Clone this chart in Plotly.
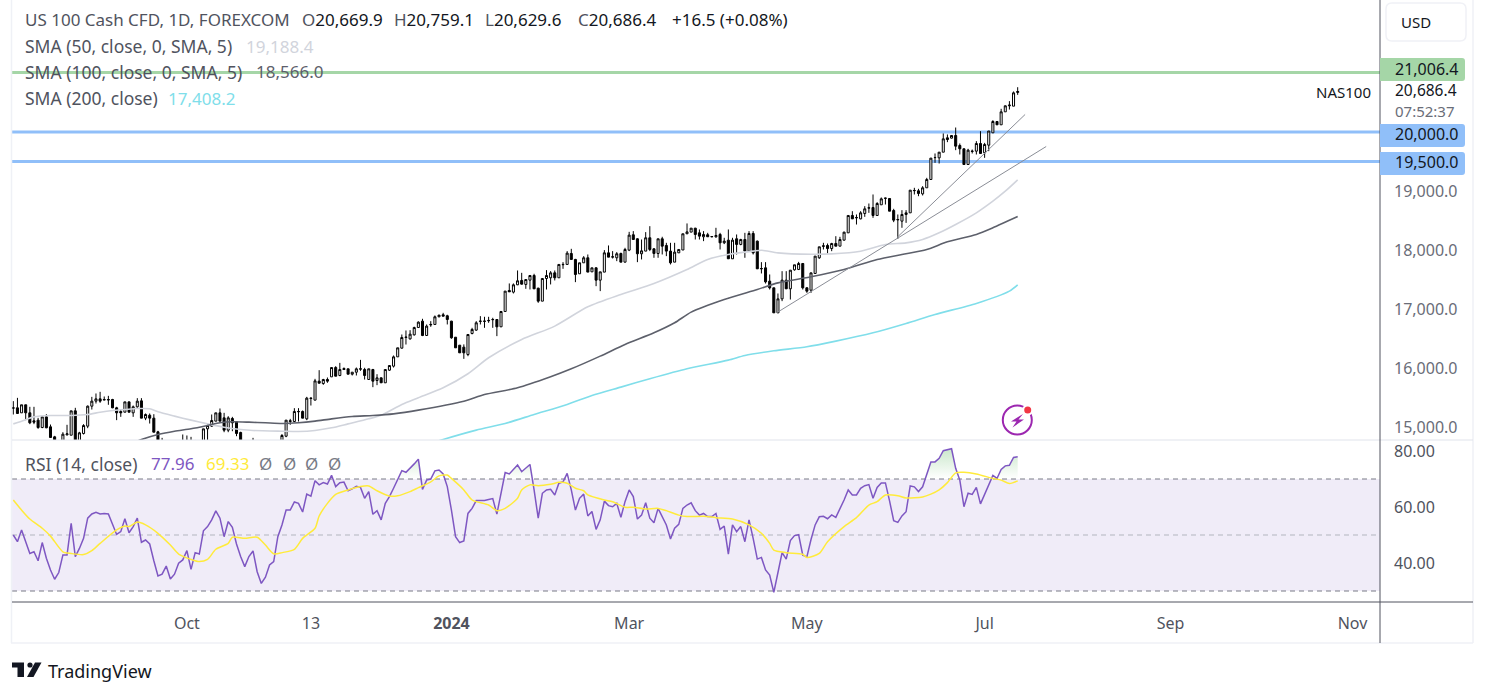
import numpy as np
import plotly.graph_objects as go

W, H = 1488, 697

# daily candles (bars below the pane are clipped in the original too)
opens = [15325,15325,15240,15376,15240,15105,15116,14991,15172,15003,14833,14760,14760,14867,14861,15274,14760,14890,15014,15353,
         15438,15477,15466,15466,15466,15325,15263,15251,15426,15240,15342,15443,15150,15200,15150,14918,14760,14700,14620,14700,
         14640,14680,14760,14700,14750,14680,14700,14969,15014,15099,15240,15155,14946,15144,15087,14907,14700,14600,14680,14640,
         14560,14520,14600,14540,14640,14720,14844,15093,15093,15257,15263,15138,15483,15455,15777,15737,15805,15850,16008,15873,
         15991,15986,15895,15929,15980,15974,15805,15974,15788,15833,15749,15963,16031,16189,16336,16517,16494,16562,16686,
         16794,16551,16730,16738,16868,16902,16885,16794,16522,16387,16353,16228,16585,16642,16790,16790,16800,16818,16822,16698,
         16958,17314,17286,17410,17484,17416,17489,17568,17353,17133,17517,17529,17613,17529,17750,17755,17941,17840,17597,17783,
         17868,17630,17698,17489,17625,17952,17879,17868,17941,17794,17998,18258,18190,17936,17981,18207,18020,17941,18190,18077,
         17981,17794,17952,18000,18275,18303,18370,18291,18224,18258,18224,18224,18263,18122,18167,17851,18190,18094,18178,17981,
         18280,18150,
         17680,17698,17472,17359,16935,17172,17489,17342,17664,17670,17771,17359,17319,17602,17868,18070,18076,18025,18110,18065,
         18167,18291,18585,18545,18528,18619,18710,18720,18585,18766,18875,18873,18669,18510,18489,18602,18630,19005,19003,18952,
         19054,19195,19565,19562,19658,19901,19896,19941,19771,19715,19449,19670,19675,19805,19647,19777,19986,20178,20122,20342,
         20444,20438,20669.9]
highs = [15438,15494,15376,15376,15342,15342,15155,15172,15217,15042,14850,14780,14912,15037,15274,15325,14918,15048,15364,15511,
         15568,15596,15517,15528,15477,15342,15296,15426,15426,15364,15489,15489,15229,15229,15217,14935,14816,14760,14740,14770,
         14750,14873,14856,14833,14780,14770,14969,15042,15212,15240,15314,15240,15183,15172,15100,14920,14770,14720,14816,14720,
         14650,14640,14700,14680,14760,14880,15116,15138,15319,15319,15280,15511,15500,15816,15963,15816,15839,16008,16031,16087,
         16010,15986,15929,16008,16138,16003,15986,15985,15895,15840,15974,16042,16212,16342,16568,16636,16641,16700,16790,
         16834,16738,16794,16890,16900,16935,16902,16800,16522,16387,16400,16568,16681,16794,16879,16868,16868,16851,16830,16960,
         17303,17433,17433,17653,17613,17500,17568,17597,17360,17517,17659,17642,17653,17755,17794,17981,18020,17850,17783,17896,
         17924,17698,17705,17630,17998,18077,17981,17964,17955,18037,18308,18320,18200,18178,18303,18404,18030,18190,18224,18122,
         18122,18122,18009,18275,18450,18370,18375,18348,18320,18291,18235,18376,18291,18207,18348,18207,18263,18190,18291,18320,
         18320,18160,
         17794,17794,17585,17360,17263,17641,17641,17660,17750,17799,17780,17370,17613,17896,18054,18122,18110,18122,18234,18223,
         18310,18585,18658,18602,18658,18743,18788,18941,18811,18890,18885,18880,18698,18602,18675,18675,19014,19054,19037,19082,
         19223,19557,19636,19660,19975,19958,19945,20076,19805,19720,19715,19703,19845,20014,19816,20017,20200,20185,20393,20450,
         20523,20687,20759.1]
lows = [15212,15229,15240,15116,15048,15048,14969,14980,14980,14822,14700,14600,14740,14856,14861,14650,14740,14873,14980,15296,
        15398,15410,15455,15376,15319,15116,15172,15251,15251,15172,15325,15150,15116,15059,14912,14700,14650,14580,14560,14590,
        14600,14640,14660,14620,14640,14600,14680,14780,15003,15099,15099,14912,14912,14929,14844,14650,14560,14520,14590,14520,
        14450,14440,14500,14490,14600,14700,14827,15037,15082,15093,15150,15116,15364,15455,15737,15715,15749,15850,15861,15861,
        15974,15895,15873,15873,15952,15805,15805,15675,15709,15749,15749,15950,16008,16189,16330,16398,16480,16550,16680,
        16540,16551,16698,16738,16860,16879,16738,16495,16342,16257,16155,16200,16570,16630,16738,16681,16766,16681,16540,16698,
        16958,17291,17263,17405,17416,17342,17331,17342,17105,17133,17331,17416,17484,17529,17681,17755,17840,17455,17597,17783,
        17625,17630,17387,17303,17625,17879,17856,17811,17794,17790,17981,18178,17794,17840,17981,17981,17868,17868,17924,17896,
        17755,17794,17950,18000,18270,18303,18178,18178,18150,18224,18215,18207,18009,18100,17851,17851,17924,18080,17868,17981,
        17924,17680,
        17602,17432,17330,16935,16935,17133,17342,17161,17650,17660,17330,17274,17274,17602,17850,18009,17941,17980,18065,18065,
        18160,18291,18528,18432,18520,18562,18630,18545,18585,18766,18771,18658,18472,18189,18376,18460,18630,18941,18912,18924,
        19054,19195,19477,19466,19658,19828,19890,19692,19619,19449,19449,19636,19619,19636,19562,19675,19986,20122,20122,20342,
        20381,20438,20629.6]
closes = [15320,15229,15376,15240,15071,15082,14991,15172,14986,14822,14760,14650,14878,14884,15274,14700,14901,15025,15353,15438,
          15477,15438,15460,15460,15325,15240,15240,15426,15251,15342,15438,15150,15212,15150,14912,14740,14700,14620,14700,14640,
          14720,14760,14700,14760,14680,14720,14969,15025,15110,15240,15099,14946,15155,15071,14890,14700,14600,14680,14640,14560,
          14520,14600,14540,14640,14720,14856,15116,15105,15263,15263,15150,15489,15489,15782,15743,15805,15777,16008,15861,15974,
          15974,15895,15929,15986,15986,15873,15986,15777,15833,15749,15974,16042,16189,16342,16517,16523,16573,16686,16777,
          16551,16710,16738,16868,16896,16879,16822,16512,16342,16257,16257,16568,16653,16766,16794,16794,16806,16822,16698,16958,
          17303,17291,17410,17478,17421,17500,17568,17342,17133,17517,17568,17613,17529,17755,17755,17947,17840,17585,17783,17868,
          17625,17698,17489,17630,17952,17879,17885,17936,17794,18009,18252,18178,17936,17986,18207,18009,17941,18190,18065,17981,
          17783,17964,18009,18275,18308,18370,18263,18235,18263,18224,18228,18246,18122,18150,17851,18167,18094,18178,17981,18280,
          17952,17681,
          17686,17460,17359,16935,17172,17489,17342,17658,17749,17771,17359,17302,17613,17896,18054,18065,18025,18110,18065,18178,
          18302,18585,18528,18550,18630,18698,18715,18585,18788,18867,18879,18658,18506,18517,18602,18630,19014,19009,18958,19054,
          19195,19557,19568,19658,19884,19873,19941,19760,19715,19449,19692,19675,19805,19636,19788,20017,20178,20122,20342,20444,
          20455,20664,20686.4]

# moving averages: bar index and price where each line was read
sma50_idx = [0,2,5,9,14,18,21,24,27,30,33,35,39,43,47,51,55,58,65,69,73,77,81,86,89,94,98,104,110,115,123,131,139,147,155,163,168,173,179,
             181,185,193,198,205,211,216,220,224,228,233,237,240,243]
sma50 = [15053,15099,15172,15195,15195,15212,15251,15280,15296,15313,15308,15257,15184,15116,15053,14997,14958,14941,14929,14924,14941,
         14986,15053,15138,15200,15381,15495,15664,15902,16173,16483,16710,17037,17246,17433,17670,17840,17924,17981,
         17997,17952,17929,17935,17980,18093,18121,18178,18291,18432,18630,18828,18997,19188.4]
sma100_idx = [30,31,35,39,43,47,50,53,57,61,65,69,73,77,82,87,92,98,109,114,122,130,135,142,148,155,160,164,172,180,185,193,201,209,215,221,226,233,237,243]
sma100 = [14760,14788,14873,14929,14969,15025,15071,15088,15082,15071,15059,15071,15099,15138,15178,15195,15223,15286,15438,15551,15664,
          15851,15986,16201,16399,16596,16766,16947,17161,17331,17443,17545,17670,17839,17924,18008,18138,18263,18376,18566.0]
sma200_idx = [100,104,112,119,126,134,140,147,154,163,173,177,184,192,199,208,216,223,233,241,243]
sma200 = [14700,14788,14947,15060,15212,15382,15534,15676,15817,15986,16133,16212,16291,16359,16455,16596,16755,16907,17094,17303,17408.2]

# hand drawn trend lines
trend1_idx, trend1 = [184.8, 249.9], [16941, 19754]
trend2_idx, trend2 = [213.8, 244.8], [18212, 20297]

# horizontal levels
levels = [21006.4, 20000.0, 19500.0]
level_colors = ["#a5d6a7", "#90bff9", "#90bff9"]
level_tops = [58, 124, 152]

rsi = [50.0,47.6,51.8,47.6,43.4,44.0,40.8,47.3,41.7,37.5,34.2,36.6,42.9,42.9,54.2,42.3,45.2,48.8,56.0,57.5,
       58.1,57.5,57.7,57.5,53.9,50.2,51.2,55.8,50.8,53.0,56.0,47.4,48.2,46.8,40.8,35.4,36.0,38.9,34.3,36.0,
       39.9,41.1,44.4,37.7,43.7,43.2,51.5,53.0,55.4,58.6,56.0,49.4,54.8,52.7,46.8,42.3,38.7,42.3,44.3,36.9,
       32.7,34.9,39.3,40.5,49.4,53.6,58.9,58.9,61.8,61.3,58.2,64.6,63.9,69.4,67.9,68.7,68.2,71.3,67.3,68.7,
       68.9,65.8,66.5,67.4,67.0,63.1,65.5,57.4,58.7,55.4,61.3,63.7,66.7,69.6,73.0,72.4,73.8,75.4,77.1,
       66.3,69.6,70.0,72.9,73.2,71.8,67.3,58.9,49.4,47.3,47.9,57.7,59.5,62.3,62.3,62.3,62.7,63.0,57.5,64.3,
       72.3,71.8,73.6,75.0,72.6,73.8,75.2,66.1,56.0,64.9,66.1,66.3,64.3,68.5,69.0,72.0,66.1,58.9,63.1,64.6,
       56.8,58.4,52.0,55.4,62.1,60.5,60.1,61.3,56.3,61.9,66.1,63.7,55.7,57.1,61.5,56.0,54.4,59.5,56.3,53.6,
       48.6,52.4,53.8,59.5,60.7,61.5,58.7,57.1,57.7,56.6,56.6,57.7,52.0,53.2,43.2,53.6,51.2,53.0,47.6,55.4,
       48.8,41.4,42.0,37.5,35.7,29.5,36.6,43.7,41.4,48.0,49.8,50.1,
       42.8,42.2,48.4,53.6,56.5,56.7,55.8,57.2,56.3,59.2,62.5,66.1,64.3,64.3,66.7,67.6,68.0,63.1,67.0,68.6,
       68.6,62.2,55.1,54.5,56.8,58.3,67.5,67.2,65.5,67.2,71.4,76.1,76.1,77.4,80.1,80.5,80.8,73.8,69.6,60.1,
       64.9,64.5,67.0,61.1,64.3,67.8,71.3,70.2,73.4,74.7,74.9,77.7,77.96]
rsi_ma_idx = [0,2,4,7,9,12,14,17,19,21,25,27,28,30,32,35,38,40,43,45,47,49,52,53,56,59,61,63,65,68,70,73,74,76,78,81,84,86,88,91,93,96,98,
              101,103,105,106,109,111,115,117,119,122,123,125,127,130,132,134,136,138,139,143,145,148,150,153,156,158,161,163,167,170,174,178,
              181,183,184,187,191,192,195,197,201,204,207,209,211,214,216,220,222,224,226,228,230,233,237,239,241,243]
rsi_ma = [62.5,58.9,55.7,52.4,49.6,44.0,43.4,43.0,44.4,47.0,51.8,53.2,53.0,54.6,53.6,50.6,46.4,43.2,41.3,40.5,41.3,44.9,47.0,49.2,48.8,49.2,
          46.4,43.3,43.7,44.9,48.8,52.4,56.8,61.3,64.5,66.1,67.3,67.5,65.8,63.9,64.0,65.5,66.9,
          69.0,71.1,71.4,70.2,66.1,62.5,60.7,58.7,59.5,63.1,66.1,67.9,67.6,68.1,68.8,68.5,66.7,65.8,64.3,62.5,61.9,59.9,59.9,59.3,59.5,58.7,57.1,
          56.6,56.7,56.2,55.7,53.6,50.6,47.0,44.6,43.7,43.1,42.0,43.4,47.6,53.0,56.2,60.7,61.9,64.3,64.0,63.2,63.6,64.6,66.1,68.7,72.2,72.4,71.8,
          70.2,69.6,68.4,69.33]

# axis labels
price_ticks = [15000, 16000, 17000, 18000, 19000]
rsi_ticks = [40, 60, 80]
time_tick_idx = [42, 72, 106, 149, 192, 235, 280, 324]
time_tick_text = ["Oct", "13", "<b>2024</b>", "Mar", "May", "Jul", "Sep", "Nov"]

FONT = "Noto Sans"
GREY = "#50535e"
AXIS_GREY = "#6a6d78"
TOP_Y, SEP_Y, BOT_Y, END_Y = 0, 440, 602, 643
LEFT_X, AXIS_X, RIGHT_X = 12, 1380, 1473


def fx(px):
    return px / W


def fy(py):
    return 1 - py / H


def label(x, y, text, color=GREY, size=17, anchor="left"):
    return dict(x=fx(x), y=fy(y), xref="paper", yref="paper", text=text, showarrow=False,
                xanchor=anchor, yanchor="middle", align=anchor, borderpad=0,
                font=dict(family=FONT, size=size, color=color))


def pline(x0, y0, x1, y1, color, width=1, layer="above"):
    return dict(type="line", xref="paper", yref="paper", x0=fx(x0), y0=fy(y0), x1=fx(x1), y1=fy(y1),
                line=dict(color=color, width=width), layer=layer)


def ppoly(points, color):
    path = "M " + " L ".join(f"{fx(a):.5f} {fy(b):.5f}" for a, b in points) + " Z"
    return dict(type="path", xref="paper", yref="paper", path=path, fillcolor=color, line=dict(width=0), layer="above")


def pcircle(cx, cy, r, fill, line_color=None, width=0):
    return dict(type="circle", xref="paper", yref="paper", x0=fx(cx - r), x1=fx(cx + r), y0=fy(cy + r), y1=fy(cy - r),
                fillcolor=fill, line=dict(color=line_color or fill, width=width), layer="above")


def round_rect(x0, y0, x1, y1, rl, rr, fill, line_color=None, width=0):
    p = (f"M {fx(x0 + rl):.5f} {fy(y0):.5f} L {fx(x1 - rr):.5f} {fy(y0):.5f} "
         f"Q {fx(x1):.5f} {fy(y0):.5f} {fx(x1):.5f} {fy(y0 + rr):.5f} L {fx(x1):.5f} {fy(y1 - rr):.5f} "
         f"Q {fx(x1):.5f} {fy(y1):.5f} {fx(x1 - rr):.5f} {fy(y1):.5f} L {fx(x0 + rl):.5f} {fy(y1):.5f} "
         f"Q {fx(x0):.5f} {fy(y1):.5f} {fx(x0):.5f} {fy(y1 - rl):.5f} L {fx(x0):.5f} {fy(y0 + rl):.5f} "
         f"Q {fx(x0):.5f} {fy(y0):.5f} {fx(x0 + rl):.5f} {fy(y0):.5f} Z")
    return dict(type="path", xref="paper", yref="paper", path=p, fillcolor=fill,
                line=dict(color=line_color or fill, width=width), layer="above")


idx = list(range(len(closes)))
fig = go.Figure()

smooth = dict(shape="spline", smoothing=0.7)
fig.add_trace(go.Scatter(x=sma50_idx, y=sma50, mode="lines", line=dict(color="#d1d4dc", width=1.6, **smooth)))
fig.add_trace(go.Scatter(x=sma100_idx, y=sma100, mode="lines", line=dict(color="#5d606b", width=1.6, **smooth)))
fig.add_trace(go.Scatter(x=sma200_idx, y=sma200, mode="lines", line=dict(color="#80deea", width=1.6, **smooth)))
fig.add_trace(go.Candlestick(x=idx, open=opens, high=highs, low=lows, close=closes,
                             increasing=dict(line=dict(color="#000000", width=1), fillcolor="#ffffff"),
                             decreasing=dict(line=dict(color="#000000", width=1), fillcolor="#000000")))
fig.add_trace(go.Scatter(x=trend1_idx, y=trend1, mode="lines", line=dict(color="#8a8d96", width=1)))
fig.add_trace(go.Scatter(x=trend2_idx, y=trend2, mode="lines", line=dict(color="#8a8d96", width=1)))

# green wash where the RSI is above 70
rsi_idx = list(range(len(rsi)))
fig.add_trace(go.Scatter(x=rsi_idx, y=[70] * len(rsi), mode="lines", line=dict(width=0), yaxis="y2"))
fig.add_trace(go.Scatter(x=rsi_idx, y=np.maximum(rsi, 70), mode="lines", line=dict(width=0), yaxis="y2", fill="tonexty",
                         fillgradient=dict(type="vertical", start=70, stop=81,
                                           colorscale=[[0, "rgba(76,175,80,0)"], [1, "rgba(76,175,80,0.3)"]])))
fig.add_trace(go.Scatter(x=rsi_idx, y=rsi, mode="lines", line=dict(color="#7e57c2", width=1.5), yaxis="y2"))
fig.add_trace(go.Scatter(x=rsi_ma_idx, y=rsi_ma, mode="lines", line=dict(color="#ffeb3b", width=1.5, **smooth), yaxis="y2"))

shapes = [
    dict(type="rect", xref="paper", yref="y2", x0=fx(LEFT_X), x1=fx(AXIS_X), y0=30, y1=70,
         fillcolor="#f0ecf8", line=dict(width=0), layer="below"),
]
for level, color in zip(levels, level_colors):
    shapes.append(dict(type="line", xref="paper", yref="y", x0=fx(LEFT_X), x1=fx(AXIS_X), y0=level, y1=level,
                       line=dict(color=color, width=3), layer="below"))
for val, color in zip([70, 50, 30], ["#787b86", "#b2b5be", "#787b86"]):
    shapes.append(dict(type="line", xref="paper", yref="y2", x0=fx(LEFT_X), x1=fx(AXIS_X), y0=val, y1=val,
                       line=dict(color=color, width=1, dash="5px,4px"), layer="below"))

# pane frame
shapes += [
    pline(11.5, TOP_Y, 11.5, END_Y, "#eff1f6", 1.5),
    pline(RIGHT_X, TOP_Y, RIGHT_X, END_Y, "#eff1f6", 1.5),
    pline(11, END_Y, RIGHT_X, END_Y, "#eff1f6", 1.5),
    pline(LEFT_X, SEP_Y, RIGHT_X, SEP_Y, "#e0e3eb", 1),
    pline(LEFT_X, BOT_Y, RIGHT_X, BOT_Y, GREY, 1),
    pline(AXIS_X, TOP_Y, AXIS_X, END_Y, GREY, 1),
]

# price tags on the axis
for top, color in zip(level_tops, level_colors):
    shapes.append(round_rect(AXIS_X, top, 1465, top + 23, 0, 3, color))

# USD button
shapes.append(round_rect(1386, 3, 1466, 41, 6, 6, "#ffffff", "#f0f1f6", 1.5))

# lightning badge
shapes += [
    pcircle(1017.3, 420, 14.5, "rgba(0,0,0,0)", "#9c27b0", 2),
    ppoly([(1023, 414), (1011, 421.5), (1016.5, 421.5), (1012.5, 427.5), (1024, 419.5), (1018.5, 419.5)], "#9c27b0"),
    pcircle(1027.7, 410, 5.5, "#ffffff"),
    pcircle(1027.7, 410, 3.5, "#f23645"),
]

# TradingView logo
shapes += [
    ppoly([(12, 662.5), (24, 662.5), (24, 677), (17.5, 677), (17.5, 667.5), (12, 667.5)], "#131722"),
    pcircle(30, 665, 2.6, "#131722"),
    ppoly([(35, 662.5), (41.5, 662.5), (33.5, 677), (27, 677)], "#131722"),
]

annotations = [
    label(24, 20, "US 100 Cash CFD, 1D, FOREXCOM"),
    label(301, 20, "O<span style='color:#131722'>20,669.9</span>"),
    label(393, 20, "H<span style='color:#131722'>20,759.1</span>"),
    label(484, 20, "L<span style='color:#131722'>20,629.6</span>"),
    label(577, 20, "C<span style='color:#131722'>20,686.4</span>"),
    label(671, 20, "+16.5 (+0.08%)", "#131722"),
    label(24, 46, "SMA (50, close, 0, SMA, 5)", size=17.5),
    label(245, 46, "19,188.4", "#d1d4dc"),
    label(24, 72, "SMA (100, close, 0, SMA, 5)", size=17.5),
    label(255, 72, "18,566.0", "#5d606b"),
    label(24, 98, "SMA (200, close)", size=17.5),
    label(167, 98, "17,408.2", "#80deea"),
    label(24, 464, "RSI (14, close)", size=17.5),
    label(150, 464, "77.96", "#7e57c2"),
    label(205, 464, "69.33", "#ffeb3b"),
    label(265, 464, "Ø", "#787b86", anchor="center"),
    label(289, 464, "Ø", "#787b86", anchor="center"),
    label(311, 464, "Ø", "#787b86", anchor="center"),
    label(334, 464, "Ø", "#787b86", anchor="center"),
    label(1400, 22, "USD", "#131722", size=15),
    label(1372, 92, "NAS100", "#131722", size=15, anchor="right"),
    label(1394, 69, "21,006.4", "#131722", size=16),
    label(1394, 90, "20,686.4", "#131722", size=15.5),
    label(1394, 111, "07:52:37", AXIS_GREY, size=15),
    label(1394, 134, "20,000.0", "#131722", size=16),
    label(1394, 162, "19,500.0", "#131722", size=16),
    label(47, 671, "TradingView", "#131722", size=18),
]

fig.update_layout(
    width=W, height=H, margin=dict(l=0, r=0, t=0, b=0), paper_bgcolor="#ffffff", plot_bgcolor="#ffffff",
    showlegend=False, shapes=shapes, annotations=annotations, hovermode=False,
    font=dict(family=FONT, size=14, color=GREY),
    xaxis=dict(domain=[fx(LEFT_X), fx(AXIS_X)], anchor="y2", range=[-0.315, 330.66], rangeslider=dict(visible=False),
               tickmode="array", tickvals=time_tick_idx, ticktext=time_tick_text, showgrid=False, zeroline=False,
               ticks="", ticklabelstandoff=10, tickfont=dict(family=FONT, size=16, color=GREY)),
    yaxis=dict(domain=[fy(SEP_Y), fy(TOP_Y)], anchor="x", side="right", range=[14779.6, 22237.3],
               tickmode="array", tickvals=price_ticks, tickformat=",.1f", showgrid=False, zeroline=False,
               ticks="", ticklabelstandoff=13, tickfont=dict(family=FONT, size=16, color=AXIS_GREY)),
    yaxis2=dict(domain=[fy(BOT_Y), fy(SEP_Y)], anchor="x", side="right", range=[26.07, 83.93],
                tickmode="array", tickvals=rsi_ticks, tickformat=".2f", showgrid=False, zeroline=False,
                ticks="", ticklabelstandoff=13, tickfont=dict(family=FONT, size=16, color=GREY)),
)

fig.write_html("out.html", config=dict(displayModeBar=False),
               post_script="document.body.style.margin='0';document.body.style.overflow='hidden';")
